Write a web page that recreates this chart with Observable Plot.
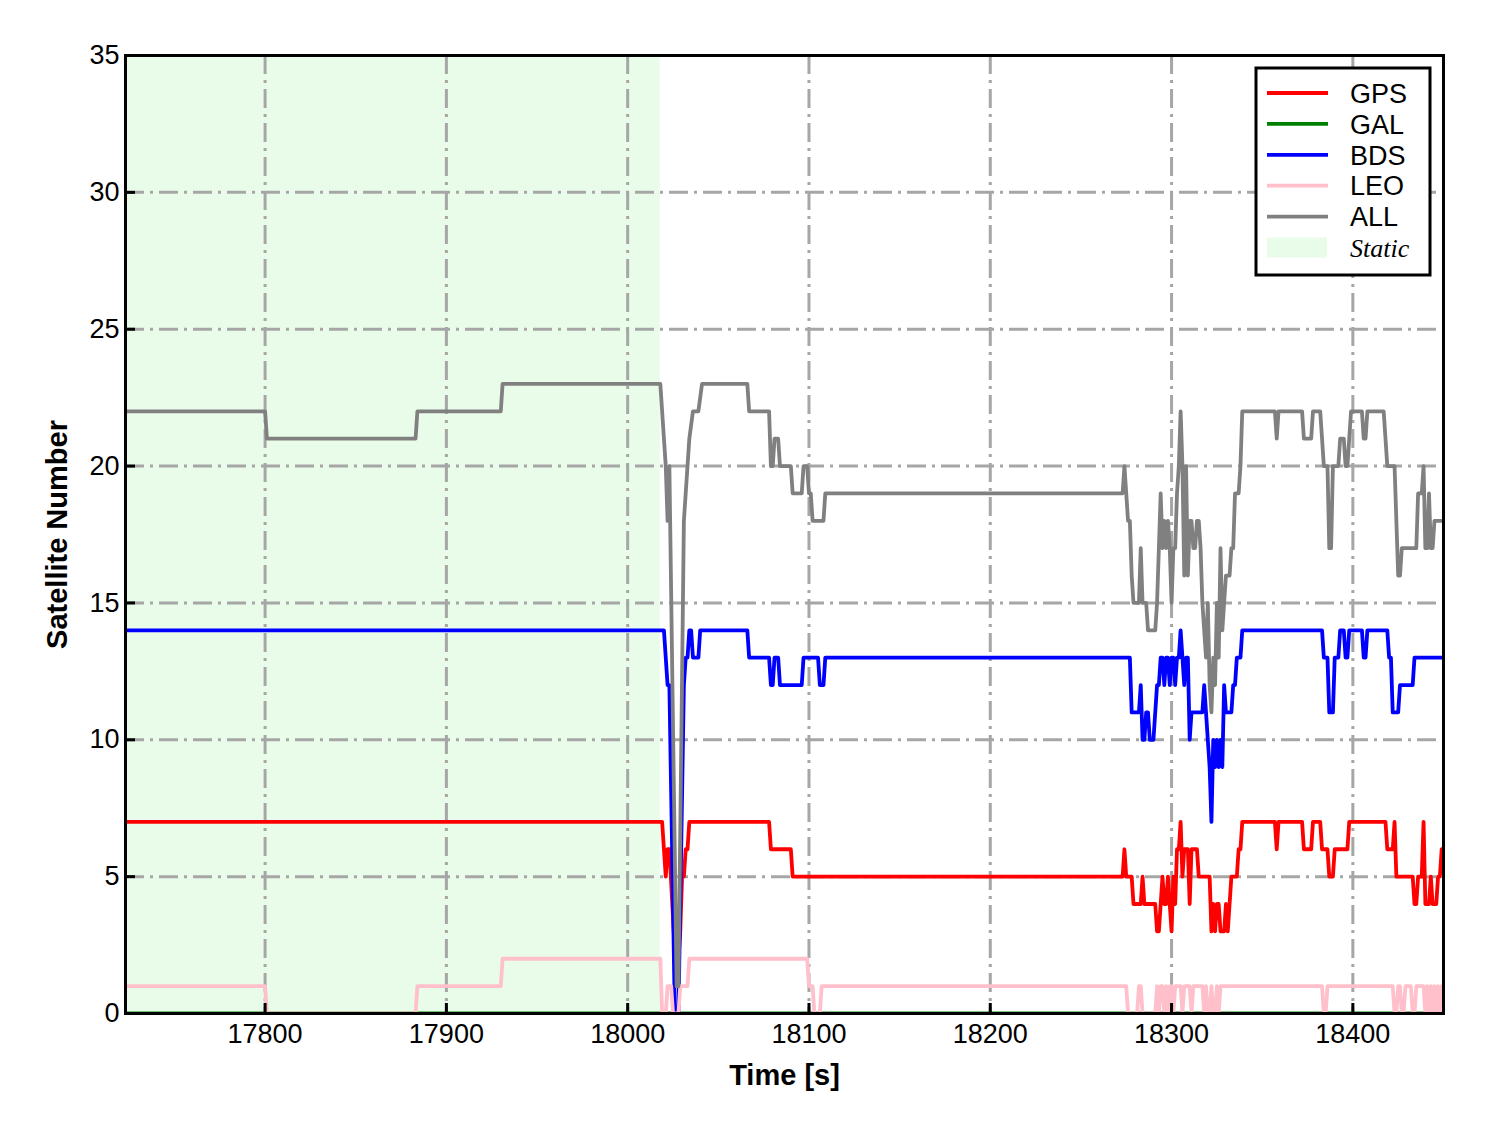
<!DOCTYPE html>
<html><head><meta charset="utf-8">
<script src="https://cdn.jsdelivr.net/npm/d3@7"></script>
<script src="https://cdn.jsdelivr.net/npm/@observablehq/plot@0.6"></script>
<style>body{margin:0;background:#fff;} #chart{width:1488px;height:1133px;}</style>
</head><body><div id="chart"></div>
<script>
// ---------- data ----------
const xDomain = [17723, 18450];
const yDomain = [0, 35];
const xTicks = [17800, 17900, 18000, 18100, 18200, 18300, 18400];
const yTicks = [0, 5, 10, 15, 20, 25, 30, 35];
const staticSpan = [17723, 18018];
const seriesNames = ["GPS", "GAL", "BDS", "LEO", "ALL"];
const seriesColors = ["red", "green", "blue", "pink", "gray"];
const xLabel = "Time [s]";
const yLabel = "Satellite Number";
const staticLabel = "Static";

// per-second values 18272 .. 18339
const denseStart = 18272;
const gpsDense = [5,5,6,5,5,5,5,4,4,4, 4,4,5,4,4,4,4,4,4,4, 3,3,4,5,4,4,5,4,3,5, 4,6,6,7,5,6,6,6,4,6, 6,6,6,5,5,5,5,5,5,5, 3,4,3,4,4,3,3,3,4,3, 4,5,5,5,5,6,6,7];
const bdsDense = [13,13,13,13,13,13,11,11,11,11, 11,12,10,10,11,11,10,10,10,11, 12,12,13,13,12,13,13,12,13,13, 12,13,13,14,13,12,13,13,10,11, 11,11,11,11,11,11,12,11,10,9, 7,10,9,10,9,10,9,12,11,11, 11,11,12,12,13,13,13,14];
const leoDense = [1,1,1,1,0,0,0,0,0,0, 1,1,0,0,0,0,0,0,0,0, 1,0,1,1,0,1,0,1,1,0, 1,1,1,1,0,1,1,1,1,0, 1,1,1,1,1,1,0,1,0,0, 1,0,0,1,0,1,1,1,1,1, 1,1,1,1,1,1,1,1];
const allDense = [19,19,20,19,18,18,16,15,15,15, 15,17,15,15,15,14,14,14,14,14, 15,17,19,17,18,17,18,17,15,17, 17,19,20,22,20,16,20,16,18,18, 17,17,18,18,17,15,14,13,15,12, 11,13,12,15,13,17,14,15,16,16, 16,17,17,19,19,19,20,22];

// vertices [time, value] before / after the dense block
const gpsBefore = [[17723,7],[18019,7],[18020,6],[18021,5],[18022,6],[18023,6],[18027,1],[18029,3],[18030,5],[18031,5],[18032,6],[18033,6],[18034,7],[18078,7],[18079,6],[18090,6],[18091,5],[18271,5]];
const gpsAfter = [[18340,7],[18357,7],[18358,6],[18359,7],[18372,7],[18373,6],[18377,6],[18378,7],[18382,7],[18383,6],[18386,6],[18387,5],[18389,5],[18390,6],[18397,6],[18398,7],[18418,7],[18419,6],[18422,6],[18423,7],[18424,5],[18433,5],[18434,4],[18435,4],[18436,5],[18438,5],[18439,7],[18440,4],[18442,4],[18443,5],[18444,4],[18446,4],[18447,5],[18448,5],[18449,6],[18450,6]];

const galVertices = [[17723,0],[18450,0]];

const bdsBefore = [[17723,14],[18020,14],[18021,13],[18022,12],[18023,12],[18026,0],[18028,0],[18031,12],[18032,13],[18033,13],[18034,14],[18035,14],[18036,13],[18039,13],[18040,14],[18066,14],[18067,13],[18078,13],[18079,12],[18080,12],[18081,13],[18083,13],[18084,12],[18096,12],[18097,13],[18105,13],[18106,12],[18108,12],[18109,13],[18271,13]];
const bdsAfter = [[18340,14],[18383,14],[18384,13],[18386,13],[18387,11],[18389,11],[18390,13],[18392,13],[18393,14],[18395,14],[18396,13],[18397,13],[18398,14],[18405,14],[18406,13],[18407,13],[18408,14],[18419,14],[18420,13],[18421,13],[18422,11],[18425,11],[18426,12],[18433,12],[18434,13],[18450,13]];

const leoBefore = [[17723,1],[17800,1],[17801,0],[17883,0],[17884,1],[17930,1],[17931,2],[18018,2],[18019,0],[18021,0],[18022,1],[18024,1],[18025,0],[18028,0],[18029,1],[18033,1],[18034,2],[18099,2],[18100,1],[18102,1],[18103,0],[18106,0],[18107,1],[18271,1]];
const leoAfter = [[18340,1],[18383,1],[18384,0],[18385,0],[18386,1],[18422,1],[18423,0],[18424,0],[18425,1],[18426,1],[18427,0],[18428,0],[18429,1],[18432,1],[18433,0],[18434,0],[18435,1],[18439,1],[18440,0],[18441,1],[18442,0],[18443,1],[18444,0],[18445,1],[18446,0],[18447,1],[18448,0],[18449,1],[18450,1]];

const allBefore = [[17723,22],[17800,22],[17801,21],[17883,21],[17884,22],[17930,22],[17931,23],[18018,23],[18020,21],[18021,20],[18022,18],[18023,20],[18027,1],[18028,1],[18031,18],[18032,19],[18033,20],[18034,21],[18036,22],[18039,22],[18041,23],[18066,23],[18067,22],[18078,22],[18079,20],[18080,20],[18081,21],[18083,21],[18084,20],[18090,20],[18091,19],[18096,19],[18097,20],[18099,20],[18100,19],[18101,19],[18102,18],[18108,18],[18109,19],[18271,19]];
const allAfter = [[18340,22],[18357,22],[18358,21],[18359,22],[18372,22],[18373,21],[18377,21],[18378,22],[18382,22],[18383,21],[18384,20],[18386,20],[18387,17],[18388,17],[18389,20],[18392,20],[18393,21],[18395,21],[18396,20],[18397,20],[18398,21],[18399,22],[18405,22],[18406,21],[18407,21],[18408,22],[18417,22],[18418,21],[18419,20],[18423,20],[18424,18],[18425,16],[18426,16],[18427,17],[18435,17],[18436,19],[18438,19],[18439,20],[18440,17],[18441,17],[18442,19],[18443,17],[18444,17],[18445,18],[18450,18]];

// ---------- build ----------
function build(name, before, dense, after) {
  const pts = before.map(([t, v]) => ({t, v, name}));
  if (dense) dense.forEach((v, i) => pts.push({t: denseStart + i, v, name}));
  if (after) after.forEach(([t, v]) => pts.push({t, v, name}));
  return pts;
}
const series = {
  GPS: build("GPS", gpsBefore, gpsDense, gpsAfter),
  GAL: build("GAL", galVertices, null, null),
  BDS: build("BDS", bdsBefore, bdsDense, bdsAfter),
  LEO: build("LEO", leoBefore, leoDense, leoAfter),
  ALL: build("ALL", allBefore, allDense, allAfter)
};
const colorOf = Object.fromEntries(seriesNames.map((n, i) => [n, seriesColors[i]]));

const W = 1488, H = 1133, mL = 125, mR = 45, mT = 55, mB = 120;
const plotW = W - mL - mR, plotH = H - mT - mB;
const gridStyle = {stroke: "#a6a6a6", strokeOpacity: 1, strokeWidth: 3, strokeDasharray: "19,6,3,6"};
const LW = 3.8;

const chart = Plot.plot({
  width: W, height: H,
  marginLeft: mL, marginRight: mR, marginTop: mT, marginBottom: mB,
  x: {domain: xDomain, ticks: xTicks, tickFormat: d => String(d)},
  y: {domain: yDomain, ticks: yTicks},
  style: {fontFamily: "'Liberation Sans', Arial, sans-serif", fontSize: "27px", color: "black", background: "white"},
  marks: [
    Plot.rect([{x1: staticSpan[0], x2: staticSpan[1]}], {x1: "x1", x2: "x2", fill: "#e9fce9"}),
    Plot.gridX(xTicks, gridStyle),
    Plot.gridY(yTicks.filter(d => d > 0 && d < 35), gridStyle),
    ...seriesNames.map(n => Plot.line(series[n], {x: "t", y: "v", stroke: colorOf[n], strokeWidth: LW, strokeLinejoin: "round", clip: true})),
    Plot.frame({stroke: "black", strokeWidth: 3}),
    Plot.tickX(xTicks, {x: d => d, insetTop: plotH - 10, stroke: "black", strokeWidth: 3}),
    Plot.tickY(yTicks, {y: d => d, insetRight: plotW - 10, stroke: "black", strokeWidth: 3}),
    Plot.axisX(xTicks, {tickSize: 0, tickPadding: 10, fontSize: 27, label: null, tickFormat: d => String(d)}),
    Plot.axisY(yTicks, {tickSize: 0, tickPadding: 6, fontSize: 27, label: null}),
    Plot.text([xLabel], {frameAnchor: "bottom", dy: 62, textAnchor: "middle", lineAnchor: "middle", fontSize: 29, fontWeight: "bold", text: d => d}),
    Plot.text([yLabel], {frameAnchor: "left", dx: -68, textAnchor: "middle", lineAnchor: "middle", rotate: -90, fontSize: 29, fontWeight: "bold", text: d => d})
  ]
});

// ---------- legend ----------
const svg = d3.select(chart);
const lg = svg.append("g").attr("class", "legend").attr("text-anchor", "start");
const lx = 1256, ly = 68, lw = 174, lh = 207;
lg.append("rect").attr("x", lx).attr("y", ly).attr("width", lw).attr("height", lh)
  .attr("fill", "white").attr("stroke", "black").attr("stroke-width", 3);
const rowY = i => 93 + i * 30.9;
seriesNames.forEach((n, i) => {
  lg.append("line").attr("x1", lx + 11).attr("x2", lx + 72).attr("y1", rowY(i)).attr("y2", rowY(i))
    .attr("stroke", colorOf[n]).attr("stroke-width", LW);
  lg.append("text").attr("x", lx + 94).attr("y", rowY(i)).attr("dy", "0.36em").attr("text-anchor", "start")
    .attr("font-family", "'Liberation Sans', Arial, sans-serif").attr("font-size", 27).text(n);
});
lg.append("rect").attr("x", lx + 11).attr("y", rowY(5) - 10).attr("width", 60).attr("height", 20).attr("fill", "#e9fce9");
lg.append("text").attr("x", lx + 94).attr("y", rowY(5)).attr("dy", "0.36em").attr("text-anchor", "start")
  .attr("font-family", "'Liberation Serif', 'Times New Roman', serif").attr("font-style", "italic").attr("font-size", 26).text(staticLabel);

document.getElementById("chart").appendChild(chart);
</script>
</body></html>
